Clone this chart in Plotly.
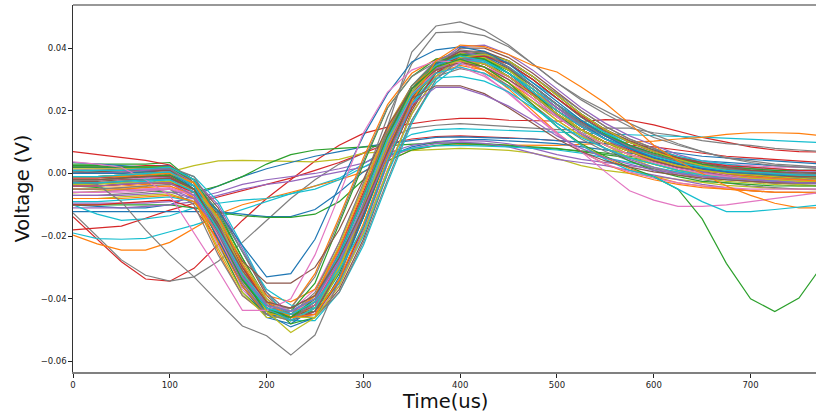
import plotly.graph_objects as go

# Sample times (us) of each recorded spike waveform
time_us = [0, 25, 50, 75, 100, 125, 150, 175, 200, 225, 250, 275, 300, 325, 350, 375,
           400, 425, 450, 475, 500, 525, 550, 575, 600, 625, 650, 675, 700, 725, 750, 775]

# Typical spikes (mV): baseline, trough near 225 us, peak near 400 us, slow decay
main_mv = [
    [0, 0.5, 0.5, 1, 1.5, -4, -18, -33, -43.5, -45, -41, -27, -10, 11, 27, 35, 38, 36.5, 32, 26, 20, 15, 11, 8, 5, 3, 1.5, 0.5, 0, -0.5, -1, -1],
    [-2, -2, -1.5, -1, -0.5, -8, -25, -39, -45, -43, -32, -14, 5, 22, 32, 36.5, 37, 34, 29, 23, 17, 12, 8, 5, 3, 1, 0, -1, -1.5, -2, -2, -2],
    [-4, -4, -3.5, -3, -3, -5, -13, -27, -40, -46, -44, -35, -19, 1, 19, 31, 37, 37.5, 35, 30, 24, 18, 13, 9, 6, 4, 2, 1, 0, -1, -1.5, -2],
    [2, 2, 2, 2.5, 2.5, -3, -17, -32, -44, -47, -43, -29, -11, 9, 25, 34, 38.5, 38, 34, 28, 22, 16, 12, 8, 6, 4, 2.5, 1.5, 0.5, 0, -0.5, 0],
    [-6, -6, -5.5, -5, -5, -8, -19, -33, -43, -44, -40, -26, -8, 11, 25, 33, 36, 35, 31, 25, 19, 14, 10, 7, 4, 2, 0.5, -0.5, -1.5, -2, -2.5, -3],
    [1, 1, 1, 1.5, 2, -2, -11, -25, -39, -46, -46, -37, -21, 0, 20, 33, 40, 40, 37, 32, 26, 20, 15, 11, 8, 5, 3, 2, 1, 0.5, 0, 0],
    [-3, -3, -2.5, -2, -1.5, -7, -23, -37, -45, -44, -37, -22, -4, 15, 28, 35, 37, 35, 30, 24, 18, 13, 9, 6, 3.5, 1.5, 0, -1, -2, -2.5, -3, -3],
    [-1, -1, -0.5, 0, 0, -5, -19, -33, -42, -43, -39, -26, -10, 9, 23, 31, 33.5, 32, 28, 23, 18, 13, 9, 6, 4, 2, 1, 0, -0.5, -1, -1, -1.5],
    [-8, -8, -7.5, -7, -6.5, -9, -20, -34, -44, -46, -42, -28, -10, 10, 25, 34, 37, 35, 31, 25, 19, 14, 10, 6, 3, 1, -0.5, -1.5, -2.5, -3, -3.5, -4],
    [0.5, 0.5, 1, 1, 1.5, -1, -9, -23, -38, -47, -47, -38, -23, -3, 16, 30, 37, 38, 36, 31, 25, 19, 14, 10, 7, 5, 3, 1.5, 0.5, 0, -0.5, -0.5],
    [-2, -2, -2, -1.5, -1, -6, -21, -36, -46, -48, -43, -29, -10, 11, 26, 34, 37, 35, 31, 25, 19, 14, 10, 7, 5, 3, 1.5, 0.5, 0, -0.5, -1, -1.5],
    [-5, -5, -4.5, -4, -4, -7, -17, -30, -39, -41, -37, -24, -7, 11, 24, 32, 34.5, 33, 29, 24, 18, 13, 9, 6, 4, 2, 0.5, -0.5, -1, -1.5, -2, -2],
    [3, 3, 3, 3, 3.5, -3, -22, -38, -45, -44, -35, -16, 3, 21, 31, 36.5, 38, 36, 31, 25, 19, 14, 10, 7, 4.5, 3, 2, 1, 0.5, 0, 0, 0.5],
    [-10, -10, -9.5, -9, -8.5, -11, -21, -34, -43, -45, -41, -28, -11, 9, 24, 33, 36, 35, 31, 26, 20, 15, 11, 8, 5, 3, 1.5, 0, -1, -1.5, -2, -2],
    [-1, -1, -0.5, 0, 0.5, -2, -10, -24, -38, -45, -45, -35, -18, 3, 22, 35, 40.5, 41, 38, 33, 27, 21, 16, 12, 9, 6, 4, 2.5, 1.5, 1, 0.5, 0.5],
    [-4, -4, -3.5, -3, -2.5, -6, -19, -34, -44, -46, -41, -26, -8, 12, 26, 34, 37, 36, 32, 26, 20, 15, 11, 7, 4, 2, 0.5, -0.5, -1.5, -2, -2.5, -3],
    [1, 1.5, 1.5, 2, 2, -3, -16, -31, -42, -44, -40, -26, -8, 12, 26, 33, 35, 34, 31, 26, 21, 16, 12, 9, 7, 5, 4, 3, 2.5, 2, 2, 2],
    [-7, -7, -6.5, -6, -5, -10, -26, -39, -45, -43, -33, -15, 4, 21, 31, 35.5, 36, 33, 28, 22, 16, 11, 7, 4, 1.5, -0.5, -2, -3, -4, -4.5, -5, -5],
    [0, 0, 0.5, 0.5, 1, -4, -18, -34, -45, -47, -42, -28, -9, 12, 27, 35.5, 38.5, 37, 33, 27, 21, 16, 12, 9, 6, 4, 2, 1, 0, -0.5, -1, -1],
    [-3, -3, -3, -2.5, -2, -4, -12, -25, -37, -42, -43, -35, -20, 0, 17, 29, 35, 36, 34, 29, 24, 18, 13, 9, 6, 3.5, 2, 0.5, -0.5, -1, -1.5, -2],
    [2, 2, 2, 2, 2.5, -2, -16, -32, -43, -45, -41, -27, -9, 11, 26, 34, 37, 36, 32, 27, 21, 16, 12, 9, 6, 4, 2, 1, 0, 0, -0.5, -0.5],
    [-5, -5, -5, -4.5, -4, -7, -20, -35, -44, -45, -40, -25, -7, 13, 27, 34, 36.5, 34, 29, 22, 15, 9, 5, 1.5, -1, -3, -4, -5, -5.5, -6, -6, -6],
    [-1, -1, -1, -0.5, 0, -3, -12, -27, -41, -48, -46, -34, -17, 4, 21, 32, 38, 38.5, 36, 31, 25, 19, 14, 10, 7, 4, 2, 1, 0, -0.5, -1, -1],
    [7, 6, 5, 4.2, 2.7, -3, -20, -36, -45, -45, -39, -24, -6, 13, 27, 34.5, 37, 35, 31, 25, 19, 14, 10, 7, 4, 2, 1, 0, -0.5, -1, -1, -1],
    [-2, -2, -1.5, -1, -1, -6, -20, -35, -44, -45, -40, -25, -7, 14, 28, 36, 39, 37.5, 33, 27, 21, 16, 11, 8, 5, 3, 1, 0, -1, -1.5, -2, -2],
    [0, 0, 0, 0.5, 1, -3, -15, -30, -42, -46, -44, -31, -13, 8, 25, 35, 39, 38.5, 35, 30, 24, 18, 13.5, 10, 7, 5, 3, 2, 1, 0.5, 0, 0],
    [-6, -6, -6, -5.5, -5, -7, -15, -28, -40, -45, -45, -36, -19, 1, 19, 31, 36, 36, 33, 28, 22, 17, 12, 8, 5, 2.5, 1, -0.5, -1.5, -2, -2.5, -3],
    [1, 1, 1.5, 1.5, 2, -1, -13, -29, -42, -47, -44, -31, -14, 7, 24, 34, 38, 37, 33, 27, 21, 15.5, 11, 8, 5, 3, 1.5, 0.5, 0, -0.5, -0.5, -1],
    [-3, -3, -2.5, -2, -2, -8, -24, -38, -46, -46, -39, -23, -4, 15, 28, 34.5, 36, 34, 29, 23, 17, 12, 8, 5, 3, 1, 0, -1, -1.5, -2, -2.5, -2.5],
    [-9, -9, -8.5, -8, -7.5, -9, -17, -30, -41, -44, -43, -31, -14, 6, 22, 32, 36, 36, 33, 28, 22, 16, 12, 8, 5.5, 3.5, 2, 1, 0, -0.5, -1, -1],
    [3.5, 3, 2.5, 2, 1, -5, -21, -36, -45, -46, -41, -26, -8, 12, 27, 35, 38, 36.5, 32, 26, 20, 15, 11, 8, 5, 3, 1.5, 0.5, 0, -0.5, -1, -1],
    [-4, -4, -4, -3.5, -3, -8, -22, -36, -45, -45, -39, -24, -5, 14, 28, 34, 35.5, 33, 27, 20, 13, 7, 3, 0, -2, -3.5, -4.5, -5, -5.5, -6, -6, -6.5],
    [2.5, 2.5, 2, 2, 2, -2, -14, -29, -41, -45, -44, -32, -14, 6, 23, 33, 37, 36.5, 33, 28, 22, 17, 12.5, 9, 6.5, 4.5, 3, 2, 1.5, 1, 1, 1],
    [-1.5, -1.5, -1, -1, -0.5, -5, -18, -33, -43, -46, -42, -28, -10, 10, 25, 33, 36, 35, 31, 25.5, 20, 15, 11, 7.5, 5, 3, 1.5, 0.5, -0.5, -1, -1.5, -1.5],
    [-7, -7, -7, -6.5, -6, -8, -18, -32, -43, -47, -44, -31, -13, 8, 24, 33, 37, 36, 32, 27, 21, 15, 11, 7, 4, 2, 0.5, -1, -2, -2.5, -3, -3.5],
    [0, 0.5, 1, 1, 1, -4, -17, -32, -43, -46, -43, -30, -12, 9, 25, 34, 38, 37, 33.5, 28, 22, 16.5, 12, 8.5, 6, 4, 2.5, 1.5, 0.5, 0, 0, 0],
    [-2, -2, -2, -1.5, -1, -6, -20, -35, -44, -46, -41, -27, -9, 11, 25, 32, 34, 31, 26, 19, 12.5, 7, 3, 0.5, -1.5, -3, -4, -4.5, -5, -5, -5, -5],
    [-5, -5, -4.5, -4, -3.5, -5, -12, -25, -38, -45, -46, -38, -22, -2, 17, 30, 36.5, 37.5, 35.5, 31, 25.5, 20, 15, 11, 8, 5.5, 3.5, 2, 1, 0, -0.5, -1],
    [1.5, 1.5, 1.5, 2, 2, -3, -17, -33, -44, -47, -43, -30, -12, 8, 24, 34, 38, 37, 33, 27, 20, 14, 9, 5, 2, 0, -1.5, -2.5, -3, -3.5, -4, -4],
    [-3, -3, -3, -2.5, -2, -6, -19, -34, -43, -44, -40, -27, -10, 10, 25, 33, 36.5, 35.5, 32, 27, 22, 17, 13, 10, 7.5, 5.5, 4, 3, 2, 1.5, 1, 1],
    [-1, -1, -1, -0.5, 0, -4, -17, -33, -45, -49, -46, -33, -14, 7, 24, 34, 38, 37.5, 34, 28, 22, 16, 11, 8, 5, 3, 1.5, 0.5, -0.5, -1, -1.5, -1.5],
    [-8, -8, -8, -7.5, -7, -9, -19, -33, -42, -45, -42, -29, -12, 8, 24, 33, 36, 35, 31, 25, 19, 14, 10, 7, 4.5, 2.5, 1, 0, -1, -1.5, -2, -2.5],
    [2, 2, 2, 2, 2, -3, -18, -34, -44, -46, -41, -26, -7, 13, 28, 35.5, 38, 36.5, 32, 26, 19, 13, 8, 4, 1, -1, -2.5, -3, -3.5, -4, -4, -4],
    [-4, -4, -3.5, -3, -3, -6, -16, -30, -41, -46, -45, -34, -17, 4, 21, 32, 37, 37.5, 35, 30, 24, 18.5, 14, 10, 7, 5, 3.5, 2.5, 2, 1.5, 1, 1],
    [0, 0, 0.5, 1, 1.5, -3, -16, -31, -42, -45, -42, -29, -11, 9, 25, 33.5, 36.5, 35, 31, 25, 18.5, 12.5, 8, 4.5, 2, 0, -1, -2, -2.5, -3, -3, -3],
    [-2.5, -2.5, -2, -2, -1.5, -5, -18, -33, -43, -47, -44, -31, -13, 7, 24, 34, 39, 39, 36, 31, 25, 19, 14, 10.5, 7.5, 5, 3.5, 2, 1, 0.5, 0, 0],
    [-6, -6, -5.5, -5, -4.5, -7, -18, -32, -41, -44, -41, -28, -10, 10, 25, 33, 35.5, 34, 30, 24, 18, 13, 9, 6, 3.5, 1.5, 0, -1, -2, -2.5, -3, -3],
    [0.5, 1, 1, 1.5, 1.5, -4, -19, -35, -45, -47, -41, -26, -7, 13, 28, 36, 39.5, 38.5, 34, 28, 22, 16, 12, 8.5, 6, 4, 2.5, 1.5, 0.5, 0, 0, -0.5],
    [-3.5, -3.5, -3, -3, -2.5, -5, -14, -28, -40, -46, -46, -36, -19, 1, 19, 31, 37, 38, 36, 31, 25, 19, 14, 10, 7, 4.5, 2.5, 1, 0, -0.5, -1, -1.5],
    [1, 1, 1, 1.5, 2, -2, -15, -31, -43, -47, -43, -29, -10, 10, 26, 34.5, 37.5, 36, 32, 26, 20, 15, 11, 8, 5.5, 3.5, 2, 1, 0.5, 0, -0.5, -0.5],
]

# Slow, low-amplitude waveforms (mV)
slow_mv = [
    [-13.8, -21, -28.2, -33.7, -34.4, -30.3, -22.5, -15, -8, -2, 4, 9, 12.8, 14.8, 16, 17, 17.6, 17.6, 17, 16.8, 16.6, 16.6, 17.2, 17, 15.5, 13.5, 11.5, 10, 8.5, 7.5, 7, 6.8],
    [-12.6, -20, -27.6, -32.5, -34.4, -33, -28, -22, -15, -8, -2, 3, 6.5, 11, 14.5, 15.4, 15.9, 15.5, 15, 14.5, 14, 14, 14.5, 14.5, 13, 12, 10.5, 9.5, 9, 8, 7.5, 7],
    [-19, -20.8, -21, -20.7, -18.6, -16.5, -14, -11.5, -9, -6.5, -4, -1.5, 3, 8, 12.5, 14, 14.3, 14, 13.8, 13.5, 13.3, 13, 12.5, 12.2, 12, 11.8, 11.6, 11.3, 11, 10.6, 10.2, 9.8],
    [-19.7, -22.5, -24.5, -24.5, -22, -17.6, -13, -10, -8, -6, -4, -2, 0.5, 4, 7.5, 8.8, 9.2, 9.1, 9, 9, 9, 9.3, 9.7, 10, 10.3, 11, 11.5, 12.5, 13, 13, 12.8, 12],
    [-18, -17.5, -16.8, -14.3, -11.7, -9.5, -7.5, -5.5, -3.5, -1.5, 1, 3.5, 6.5, 9.5, 11, 11.8, 12, 11.8, 11.4, 11, 10.5, 10, 9.5, 9, 8.5, 7.5, 6.5, 5.5, 5, 4.5, 4, 3.5],
    [-6.2, -5.7, -5.2, -4.3, 0.5, 2.5, 4, 4.2, 4.1, 3.9, 3.7, 4.5, 6.5, 7, 7.4, 7.8, 8, 7.8, 7.4, 6.5, 4.8, 2.5, 1, 0, -1, -2, -3, -3.8, -4.3, -4.8, -5, -5.2],
    [-10, -10.5, -11, -11, -10, -7, -4, -1, 1.5, 3.5, 5.5, 7, 8.5, 9.5, 10.5, 11.5, 11.7, 11.5, 11.2, 11, 10.5, 10, 9.5, 8.5, 7.5, 6.5, 5.5, 5, 4.5, 4, 3.5, 3],
    [-12.2, -12.2, -12.2, -12.2, -12.2, -12.2, -12.2, -13, -13.8, -13.8, -11.5, -6, 0.5, 5.5, 8.5, 10, 10.8, 10.8, 10.5, 10, 9.5, 8.5, 7.5, 6.5, 5.5, 4.5, 4, 3.5, 3, 2.5, 2, 2],
    [-10, -10, -10, -10, -10, -11, -12.5, -13.5, -14, -14, -13, -9, -2, 4, 7.5, 9, 9.6, 9.5, 9, 8.5, 8, 7, 6, 5, 4, 3, 2.5, 2, 1.5, 1, 0.5, 0],
    [-4, -4.5, -5, -5.5, -6, -6, -4, -1, 3, 6, 7.5, 8, 8.5, 9, 9.5, 9.8, 9.6, 9.2, 8.8, 8.3, 7.8, 7.2, 6.5, 5.5, 4.5, 3.5, 2.5, 1.5, 1, 0.5, 0, 0],
    [-9.5, -9.5, -9.5, -9.5, -9, -8, -6, -3.5, -2, -1, 0, 1.5, 3.3, 6.5, 9, 10.2, 10.5, 10.3, 9.5, 8, 6, 4.5, 3.5, 2.5, 1.5, 0.5, -0.5, -1.5, -2.5, -3, -3.5, -4],
    [-11, -11, -11, -10.5, -10, -9, -7, -5, -3.5, -2.5, -1, 0.5, 2, 5, 8, 9.5, 10, 9.6, 8.5, 6.5, 4.5, 3.5, 2.5, 1, -0.5, -2, -3.5, -4.5, -5.5, -6, -6, -6],
    [-10, -13, -15, -14.5, -13.5, -11, -9.5, -8.5, -8, -6.5, -5, -2, 2, 6, 8, 8.8, 9, 8.8, 8.5, 8, 7.5, 6.5, 5, 3.5, 2, 0.5, -1, -2, -2.5, -3, -3, -3],
]
slow_color_idx = [3, 7, 9, 1, 3, 8, 0, 0, 2, 2, 4, 4, 9]

# Atypical spikes (mV): very deep / shallow troughs, early or late timing, odd tails
odd_mv = [
    [-2.5, -3.5, -9, -18, -26, -33, -41, -48.7, -51.8, -58, -51.6, -34, -10, 15, 38.8, 47.1, 48.4, 45.7, 41, 35, 29, 24, 20, 16, 12.5, 9.5, 7, 5, 4, 3, 2.5, 2],
    [-1, -1, -0.5, 0, 0.5, -4, -18, -33, -42, -45, -38, -22, -3, 18, 35, 45, 45.2, 44, 40.5, 35, 29, 23.5, 19, 15, 11.5, 9, 7, 5, 3.5, 2.5, 2, 1.5],
    [0, 0, 0, 0.5, 0, -5, -12, -23, -33, -32, -21, -4, 12, 25.5, 35.6, 39.5, 40.4, 39, 35, 29, 23, 17, 12, 8, 5, 3, 1.5, 0.5, 0, -0.5, -1, -1],
    [-3, -3, -2.5, -2, -1.5, -5, -16, -28, -35, -35, -30, -18, -2, 15, 27, 33, 35.5, 34, 30, 25, 19, 14, 10, 7, 4, 2, 1, 0, -0.5, -1, -1, -1],
    [3.7, 3, 2, -2, -7, -19, -31, -43.7, -43.7, -40, -26, -7, 13, 26, 33, 36, 35.5, 31.5, 25.5, 19, 13, 7, 0.5, -5.5, -8.5, -10.5, -10.5, -10, -9, -8, -7, -6],
    [-1, -1, -0.5, 0, 0, -3, -15, -31, -44, -50.8, -46, -31, -11, 10, 26, 34, 36, 35, 31, 25, 19, 14, 10, 7, 4.5, 2.5, 1, 0, -0.5, -1, -1.5, -2],
    [-1, -1, -1, -0.5, 0, -3, -14, -29, -41, -46, -45, -34, -16, 5, 23, 36, 41, 40.5, 38, 34.5, 32.4, 27.6, 22.4, 16, 9, 4, 0, -4, -7, -9.5, -11, -11],
    [-2, -2, -1.5, -1, -0.5, -5, -19, -34, -43, -46, -40, -26, -8, 12, 27, 34, 36.5, 34, 29, 22, 15, 9.5, 5.5, 2, -1, -5, -14.5, -28.7, -40, -44.1, -39.8, -29],
    [-1, -1, -0.5, 0, 0.5, -4, -17, -32, -42, -44, -40, -26, -8, 11, 25, 32, 34, 32, 27.5, 21.5, 15, 9, 4.5, 1, -1, -5, -9, -12.2, -12.2, -11.5, -10.8, -10],
    [-3, -3, -2.5, -2, -2, -6, -18, -33, -43, -45, -41, -31, -17, 4, 22, 30.5, 31, 29.5, 26, 21, 16, 11.5, 8, 5, 3, 1, -0.5, -1.5, -2, -2.5, -3, -3],
    [-2, -2, -1.5, -1, -1, -5, -17, -31, -41, -43, -39, -27, -11, 7, 24, 28, 28, 25.5, 21, 16, 11, 7, 4, 2, 0.5, -0.5, -1.5, -2, -2.5, -3, -3, -3],
    [-4, -4, -3.5, -3, -3, -7, -19, -33, -42, -44, -40, -28, -12, 6, 22, 27.5, 27.5, 25, 21.5, 17, 12, 8, 5, 3, 1, 0, -1, -1.5, -2, -2.5, -3, -3],
]
odd_color_idx = [7, 7, 0, 5, 6, 8, 1, 2, 9, 9, 5, 4]

y_tick_vals = [-0.06, -0.04, -0.02, 0.00, 0.02, 0.04]
y_tick_text = ["\u22120.06", "\u22120.04", "\u22120.02", "0.00", "0.02", "0.04"]
x_tick_vals = [0, 100, 200, 300, 400, 500, 600, 700]

tab10 = ["#1f77b4", "#ff7f0e", "#2ca02c", "#d62728", "#9467bd",
         "#8c564b", "#e377c2", "#7f7f7f", "#bcbd22", "#17becf"]


def to_volts(mv):
    return [v / 1000.0 for v in mv]


fig = go.Figure()
LW = 1.2

for wave, ci in zip(slow_mv, slow_color_idx):
    fig.add_trace(go.Scatter(x=time_us, y=to_volts(wave), mode="lines",
                             line=dict(color=tab10[ci], width=LW), showlegend=False,
                             hoverinfo="skip"))

for i, wave in enumerate(main_mv):
    fig.add_trace(go.Scatter(x=time_us, y=to_volts(wave), mode="lines",
                             line=dict(color=tab10[i % 10], width=LW), showlegend=False,
                             hoverinfo="skip"))

for wave, ci in zip(odd_mv, odd_color_idx):
    fig.add_trace(go.Scatter(x=time_us, y=to_volts(wave), mode="lines",
                             line=dict(color=tab10[ci], width=LW), showlegend=False,
                             hoverinfo="skip"))

tick_font = dict(family="DejaVu Sans", size=8.5, color="#222222")
title_font = dict(family="DejaVu Sans", size=19.5, color="#111111")

fig.update_layout(
    width=816, height=416,
    margin=dict(l=73, r=0, t=5, b=44),
    paper_bgcolor="white", plot_bgcolor="white",
    showlegend=False,
    xaxis=dict(range=[0, 767.6], tickvals=x_tick_vals, ticks="outside", ticklen=3.5,
               tickwidth=0.8, tickcolor="#222222", tickfont=tick_font,
               showgrid=False, zeroline=False, showline=True,
               linecolor="#808080", linewidth=2),
    yaxis=dict(range=[-0.0634, 0.0538], tickvals=y_tick_vals, ticktext=y_tick_text,
               ticks="outside", ticklen=3.5, tickwidth=0.8, tickcolor="#222222",
               tickfont=tick_font, showgrid=False, zeroline=False, showline=True,
               linecolor="#333333", linewidth=1.2),
    shapes=[dict(type="line", xref="paper", yref="paper", x0=0, x1=1, y0=1, y1=1,
                 line=dict(color="#333333", width=1.2))],
    annotations=[
        dict(text="Time(us)", xref="paper", yref="paper", x=0.5, y=0,
             xanchor="center", yanchor="middle", yshift=-29, showarrow=False,
             font=title_font),
        dict(text="Voltage (V)", xref="paper", yref="paper", x=0, y=0.5,
             xanchor="center", yanchor="middle", xshift=-51, textangle=-90,
             showarrow=False, font=title_font),
    ],
)

fig.write_html("out.html")
